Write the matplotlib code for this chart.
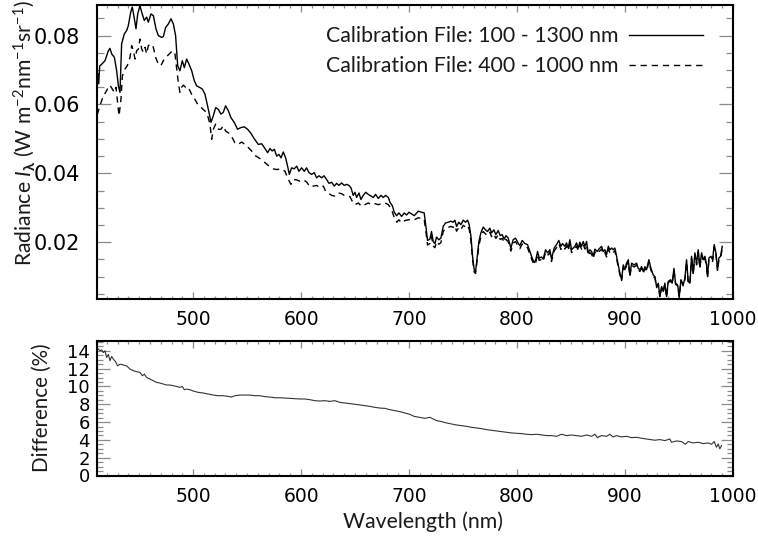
import matplotlib
matplotlib.use("Agg")
import matplotlib.pyplot as plt
from matplotlib.ticker import MultipleLocator, FixedLocator

# ---------------------------------------------------------------------------
# Radiance spectrum processed with the 100 - 1300 nm calibration file
# ---------------------------------------------------------------------------
wl_full = [
    411.0, 411.8, 412.6, 413.5, 415.3, 418.4, 421.5, 423.0, 424.6, 427.1,
    429.2, 430.8, 432.3, 433.8, 436.3, 438.5, 440.0, 442.2, 443.7, 445.6,
    447.1, 448.7, 450.8, 452.4, 454.8, 457.0, 458.5, 461.0, 463.2, 465.6,
    467.8, 470.9, 472.4, 474.6, 477.1, 479.5, 481.7, 483.8, 485.7, 487.8,
    490.0, 491.9, 494.0, 496.2, 498.7, 501.1, 503.3, 506.4, 508.5, 511.0,
    514.1, 516.6, 518.7, 520.9, 523.3, 525.8, 527.9, 530.1, 532.6, 535.0,
    538.1, 541.2, 544.3, 547.4, 550.5, 553.6, 556.7, 560.4, 563.5, 566.6,
    569.0, 571.2, 573.3, 575.2, 577.4, 579.5, 581.4, 583.5, 585.7, 587.5,
    589.1, 591.2, 593.7, 595.9, 598.0, 600.5, 603.0, 605.1, 607.3, 609.8,
    612.2, 614.4, 616.6, 619.0, 621.2, 623.7, 625.8, 628.3, 630.8, 632.9,
    635.1, 637.5, 640.0, 642.2, 644.3, 646.2, 648.3, 649.9, 651.4, 653.6,
    655.4, 657.6, 659.8, 662.2, 664.7, 666.9, 669.0, 671.5, 674.0, 676.1,
    678.3, 680.8, 682.3, 684.5, 686.3, 688.5, 690.6, 693.1, 695.6, 697.7,
    699.9, 702.4, 704.8, 708.5, 711.6, 714.0, 715.6, 717.1, 719.3, 720.8,
    722.4, 723.9, 725.5, 727.6, 729.5, 731.6, 733.8, 736.3, 738.7, 740.9,
    742.4, 744.0, 746.1, 748.0, 750.2, 752.3, 754.2, 755.7, 757.3, 758.8,
    760.3, 761.6, 762.8, 764.7, 766.5, 768.7, 770.8, 772.7, 774.8, 776.4,
    778.5, 780.4, 782.6, 784.4, 786.3, 788.1, 789.7, 791.8, 794.3, 796.4,
    798.6, 800.5, 802.6, 804.8, 807.3, 809.7, 811.9, 814.0, 815.9, 817.4,
    819.0, 820.5, 822.7, 824.2, 826.4, 828.2, 830.4, 831.9, 834.4, 836.6,
    838.7, 840.6, 842.1, 844.3, 845.8, 847.4, 848.9, 850.5, 853.6, 855.1,
    856.7, 858.2, 859.8, 861.3, 862.9, 864.4, 865.9, 867.5, 869.0, 870.6,
    872.1, 874.3, 875.8, 878.3, 879.8, 881.4, 882.9, 884.5, 886.0, 887.6,
    889.1, 890.6, 892.2, 893.7, 895.3, 896.8, 898.4, 899.9, 901.4, 903.0,
    904.5, 906.1, 908.5, 910.7, 912.2, 913.8, 915.3, 916.9, 918.4, 919.9,
    922.1, 924.0, 926.1, 927.7, 929.2, 930.8, 932.3, 933.9, 935.4, 936.9,
    938.5, 940.0, 942.2, 943.7, 945.3, 946.8, 948.7, 950.2, 951.8, 953.9,
    955.5, 957.0, 958.5, 960.1, 961.6, 963.2, 964.7, 966.3, 967.8, 969.3,
    970.9, 972.4, 974.0, 975.5, 976.4, 977.7, 979.5, 981.1, 982.6, 984.2,
    985.7, 986.9, 988.5, 990.0,
]
rad_full = [
    0.0645, 0.0690, 0.0660, 0.0712, 0.0717, 0.0727, 0.0756, 0.0763, 0.0747, 0.0737,
    0.0698, 0.0654, 0.0635, 0.0776, 0.0805, 0.0815, 0.0829, 0.0868, 0.0883, 0.0849,
    0.0820, 0.0863, 0.0887, 0.0868, 0.0844, 0.0854, 0.0839, 0.0863, 0.0858, 0.0820,
    0.0800, 0.0795, 0.0797, 0.0824, 0.0834, 0.0849, 0.0834, 0.0800, 0.0713, 0.0698,
    0.0727, 0.0707, 0.0732, 0.0717, 0.0698, 0.0669, 0.0654, 0.0649, 0.0645, 0.0630,
    0.0586, 0.0548, 0.0567, 0.0591, 0.0586, 0.0572, 0.0577, 0.0596, 0.0582, 0.0562,
    0.0548, 0.0528, 0.0533, 0.0535, 0.0528, 0.0516, 0.0500, 0.0484, 0.0486, 0.0472,
    0.0460, 0.0472, 0.0465, 0.0470, 0.0450, 0.0455, 0.0445, 0.0462, 0.0445, 0.0421,
    0.0397, 0.0416, 0.0413, 0.0421, 0.0406, 0.0416, 0.0406, 0.0416, 0.0402, 0.0397,
    0.0402, 0.0387, 0.0393, 0.0387, 0.0393, 0.0382, 0.0371, 0.0374, 0.0363, 0.0371,
    0.0365, 0.0372, 0.0365, 0.0368, 0.0365, 0.0358, 0.0336, 0.0345, 0.0330, 0.0343,
    0.0324, 0.0336, 0.0345, 0.0339, 0.0334, 0.0330, 0.0339, 0.0327, 0.0336, 0.0330,
    0.0336, 0.0330, 0.0316, 0.0306, 0.0287, 0.0277, 0.0285, 0.0275, 0.0285, 0.0279,
    0.0287, 0.0282, 0.0277, 0.0290, 0.0287, 0.0285, 0.0246, 0.0205, 0.0209, 0.0231,
    0.0202, 0.0196, 0.0215, 0.0207, 0.0212, 0.0246, 0.0256, 0.0258, 0.0261, 0.0258,
    0.0264, 0.0246, 0.0258, 0.0251, 0.0264, 0.0258, 0.0264, 0.0251, 0.0217, 0.0159,
    0.0120, 0.0115, 0.0149, 0.0202, 0.0227, 0.0244, 0.0236, 0.0231, 0.0241, 0.0227,
    0.0236, 0.0222, 0.0234, 0.0219, 0.0222, 0.0209, 0.0219, 0.0212, 0.0183, 0.0207,
    0.0212, 0.0200, 0.0190, 0.0205, 0.0196, 0.0193, 0.0173, 0.0154, 0.0141, 0.0149,
    0.0173, 0.0154, 0.0157, 0.0151, 0.0178, 0.0169, 0.0178, 0.0151, 0.0183, 0.0193,
    0.0205, 0.0188, 0.0196, 0.0188, 0.0198, 0.0183, 0.0207, 0.0178, 0.0188, 0.0198,
    0.0183, 0.0200, 0.0188, 0.0202, 0.0188, 0.0202, 0.0169, 0.0178, 0.0173, 0.0159,
    0.0180, 0.0173, 0.0180, 0.0188, 0.0173, 0.0178, 0.0164, 0.0188, 0.0178, 0.0183,
    0.0178, 0.0183, 0.0159, 0.0134, 0.0110, 0.0091, 0.0134, 0.0120, 0.0139, 0.0149,
    0.0105, 0.0139, 0.0134, 0.0139, 0.0124, 0.0120, 0.0129, 0.0115, 0.0129, 0.0120,
    0.0149, 0.0124, 0.0105, 0.0100, 0.0071, 0.0081, 0.0042, 0.0071, 0.0057, 0.0081,
    0.0042, 0.0086, 0.0091, 0.0081, 0.0124, 0.0081, 0.0076, 0.0042, 0.0091, 0.0076,
    0.0096, 0.0149, 0.0086, 0.0081, 0.0159, 0.0110, 0.0169, 0.0139, 0.0178, 0.0129,
    0.0169, 0.0149, 0.0159, 0.0134, 0.0100, 0.0154, 0.0159, 0.0149, 0.0193, 0.0169,
    0.0120, 0.0154, 0.0159, 0.0188,
]

# ---------------------------------------------------------------------------
# Same spectrum processed with the 400 - 1000 nm calibration file
# ---------------------------------------------------------------------------
wl_vnir = [
    411.2, 413.7, 416.8, 419.0, 421.5, 423.0, 425.2, 427.1, 428.6, 430.1,
    431.4, 433.2, 434.5, 436.9, 439.1, 441.6, 443.1, 444.7, 446.2, 447.7,
    449.3, 450.8, 452.4, 453.9, 455.5, 457.0, 458.5, 461.0, 463.2, 465.3,
    467.8, 470.2, 472.4, 474.6, 477.1, 479.5, 481.7, 483.2, 484.8, 486.3,
    487.8, 489.4, 490.9, 493.1, 494.9, 497.1, 499.3, 501.7, 504.2, 506.4,
    508.5, 511.0, 513.5, 515.6, 517.2, 518.7, 520.9, 523.3, 525.8, 527.9,
    530.1, 532.6, 535.6, 538.7, 541.8, 544.9, 548.0, 551.1, 554.2, 557.3,
    561.9, 566.6, 571.2, 574.3, 577.4, 581.4, 585.1, 588.2, 590.6, 592.8,
    595.9, 599.0, 602.0, 605.1, 608.2, 611.3, 614.4, 617.5, 620.6, 622.7,
    625.2, 628.3, 631.4, 634.5, 637.5, 640.0, 642.2, 645.3, 647.4, 649.9,
    653.0, 656.1, 659.2, 662.2, 665.3, 668.4, 671.5, 674.6, 677.7, 680.8,
    683.8, 686.3, 688.5, 690.6, 693.1, 696.2, 699.3, 702.4, 704.8, 708.5,
    711.6, 714.0, 715.6, 717.1, 719.3, 720.8, 722.4, 723.9, 725.5, 727.6,
    729.5, 731.6, 733.8, 736.3, 738.7, 740.9, 742.4, 744.0, 746.1, 748.0,
    750.2, 752.3, 754.2, 755.7, 757.3, 758.8, 760.3, 761.6, 762.8, 764.7,
    766.5, 768.7, 770.8, 772.7, 774.8, 776.4, 778.5, 780.4, 782.6, 784.4,
    786.3, 788.1, 789.7, 791.8, 794.3, 796.4, 798.6, 800.5, 802.6, 804.8,
    807.3, 809.7, 811.9, 814.0, 815.9, 817.4, 819.0, 820.5, 822.7, 824.2,
    826.4, 828.2, 830.4, 831.9, 834.4, 836.6, 838.7, 840.6, 842.1, 844.3,
    845.8, 847.4, 848.9, 850.5, 853.6, 855.1, 856.7, 858.2, 859.8, 861.3,
    862.9, 864.4, 865.9, 867.5, 869.0, 870.6, 872.1, 874.3, 875.8, 878.3,
    879.8, 881.4, 882.9, 884.5, 886.0, 887.6, 889.1, 890.6, 892.2, 893.7,
    895.3, 896.8, 898.4, 899.9, 901.4, 903.0, 904.5, 906.1, 908.5, 910.7,
    912.2, 913.8, 915.3, 916.9, 918.4, 919.9, 922.1, 924.0, 926.1, 927.7,
    929.2, 930.8, 932.3, 933.9, 935.4, 936.9, 938.5, 940.0, 942.2, 943.7,
    945.3, 946.8, 948.7, 950.2, 951.8, 953.9, 955.5, 957.0, 958.5, 960.1,
    961.6, 963.2, 964.7, 966.3, 967.8, 969.3, 970.9, 972.4, 974.0, 975.5,
    976.4, 977.7, 979.5, 981.1, 982.6, 984.2, 985.7, 986.9, 988.5, 990.0,
]
rad_vnir = [
    0.0570, 0.0596, 0.0625, 0.0635, 0.0650, 0.0656, 0.0645, 0.0635, 0.0650, 0.0606,
    0.0567, 0.0615, 0.0683, 0.0703, 0.0713, 0.0737, 0.0771, 0.0756, 0.0732, 0.0756,
    0.0761, 0.0790, 0.0761, 0.0752, 0.0766, 0.0747, 0.0771, 0.0776, 0.0766, 0.0737,
    0.0717, 0.0713, 0.0727, 0.0737, 0.0744, 0.0752, 0.0756, 0.0747, 0.0703, 0.0664,
    0.0635, 0.0650, 0.0656, 0.0650, 0.0652, 0.0640, 0.0625, 0.0615, 0.0601, 0.0596,
    0.0588, 0.0581, 0.0567, 0.0543, 0.0499, 0.0528, 0.0543, 0.0528, 0.0528, 0.0538,
    0.0523, 0.0518, 0.0507, 0.0489, 0.0484, 0.0491, 0.0484, 0.0475, 0.0465, 0.0452,
    0.0443, 0.0431, 0.0419, 0.0413, 0.0411, 0.0413, 0.0406, 0.0382, 0.0368, 0.0382,
    0.0381, 0.0377, 0.0381, 0.0375, 0.0361, 0.0363, 0.0365, 0.0358, 0.0363, 0.0348,
    0.0343, 0.0336, 0.0334, 0.0343, 0.0341, 0.0336, 0.0336, 0.0332, 0.0319, 0.0309,
    0.0314, 0.0304, 0.0309, 0.0314, 0.0309, 0.0312, 0.0309, 0.0312, 0.0314, 0.0309,
    0.0295, 0.0271, 0.0258, 0.0265, 0.0256, 0.0263, 0.0265, 0.0267, 0.0265, 0.0271,
    0.0269, 0.0267, 0.0230, 0.0192, 0.0196, 0.0216, 0.0189, 0.0184, 0.0202, 0.0194,
    0.0199, 0.0231, 0.0241, 0.0243, 0.0246, 0.0243, 0.0249, 0.0232, 0.0243, 0.0237,
    0.0249, 0.0244, 0.0249, 0.0237, 0.0205, 0.0150, 0.0113, 0.0109, 0.0141, 0.0191,
    0.0215, 0.0231, 0.0224, 0.0219, 0.0229, 0.0216, 0.0224, 0.0211, 0.0222, 0.0208,
    0.0211, 0.0199, 0.0208, 0.0202, 0.0174, 0.0197, 0.0202, 0.0191, 0.0181, 0.0195,
    0.0187, 0.0184, 0.0165, 0.0147, 0.0134, 0.0142, 0.0165, 0.0147, 0.0150, 0.0144,
    0.0170, 0.0161, 0.0170, 0.0144, 0.0175, 0.0184, 0.0196, 0.0179, 0.0187, 0.0180,
    0.0189, 0.0175, 0.0198, 0.0170, 0.0180, 0.0189, 0.0175, 0.0191, 0.0180, 0.0193,
    0.0180, 0.0193, 0.0161, 0.0170, 0.0165, 0.0152, 0.0172, 0.0165, 0.0172, 0.0180,
    0.0165, 0.0170, 0.0157, 0.0180, 0.0170, 0.0175, 0.0170, 0.0175, 0.0152, 0.0128,
    0.0105, 0.0087, 0.0128, 0.0115, 0.0133, 0.0142, 0.0100, 0.0133, 0.0128, 0.0133,
    0.0119, 0.0115, 0.0124, 0.0110, 0.0124, 0.0115, 0.0143, 0.0119, 0.0101, 0.0096,
    0.0068, 0.0078, 0.0040, 0.0068, 0.0055, 0.0078, 0.0040, 0.0083, 0.0087, 0.0078,
    0.0119, 0.0078, 0.0073, 0.0040, 0.0088, 0.0073, 0.0092, 0.0143, 0.0083, 0.0078,
    0.0153, 0.0106, 0.0163, 0.0134, 0.0171, 0.0124, 0.0163, 0.0143, 0.0153, 0.0129,
    0.0096, 0.0148, 0.0153, 0.0144, 0.0186, 0.0163, 0.0116, 0.0148, 0.0153, 0.0181,
]

# ---------------------------------------------------------------------------
# Relative difference between the two calibrations (%)
# ---------------------------------------------------------------------------
wl_diff = [
    411.6, 413.8, 415.3, 416.9, 418.4, 419.9, 421.5, 423.0, 424.6, 426.1,
    428.3, 430.1, 432.3, 435.4, 438.5, 441.6, 444.7, 447.7, 450.8, 453.0,
    454.8, 457.0, 460.0, 463.1, 466.2, 469.3, 472.4, 475.5, 478.5, 481.6,
    484.7, 487.8, 490.0, 491.9, 494.0, 497.1, 500.2, 504.8, 509.4, 514.1,
    518.7, 523.3, 527.9, 532.6, 535.6, 538.7, 543.4, 548.0, 552.6, 557.2,
    561.9, 566.5, 571.1, 575.7, 580.4, 585.0, 589.6, 594.3, 598.9, 603.5,
    608.2, 612.8, 617.4, 622.0, 626.7, 631.3, 635.9, 640.6, 645.2, 649.8,
    654.4, 659.1, 663.7, 668.3, 673.0, 677.6, 682.2, 686.8, 691.5, 696.1,
    700.7, 704.7, 710.0, 714.7, 719.3, 722.4, 725.5, 730.1, 734.7, 739.4,
    744.0, 748.6, 753.2, 757.9, 762.5, 767.1, 771.8, 776.4, 781.0, 785.6,
    790.3, 794.9, 799.5, 804.2, 808.8, 813.4, 818.1, 822.7, 827.3, 831.9,
    836.6, 841.2, 845.8, 850.5, 855.1, 859.7, 864.4, 869.0, 872.1, 874.5,
    878.2, 882.9, 885.9, 889.0, 892.1, 896.7, 901.4, 906.0, 910.6, 915.3,
    919.9, 924.5, 927.6, 932.2, 936.9, 941.5, 943.1, 947.7, 952.3, 956.0,
    958.5, 963.1, 967.8, 972.4, 977.0, 980.1, 982.6, 984.7, 986.3, 987.8,
    989.4,
]
diff_pct = [
    14.26, 14.00, 14.10, 13.80, 14.00, 13.25, 13.60, 12.90, 13.36, 13.07,
    12.77, 12.30, 12.50, 12.40, 12.30, 11.95, 11.76, 11.65, 11.57, 11.20,
    11.38, 11.00, 10.83, 10.64, 10.45, 10.38, 10.27, 10.16, 10.16, 10.08,
    10.00, 9.89, 10.00, 9.63, 9.70, 9.63, 9.48, 9.33, 9.26, 9.15,
    9.03, 8.96, 8.96, 8.88, 8.81, 8.96, 9.03, 9.03, 9.03, 8.96,
    8.96, 8.85, 8.81, 8.73, 8.73, 8.70, 8.66, 8.62, 8.59, 8.59,
    8.51, 8.40, 8.36, 8.40, 8.32, 8.40, 8.21, 8.14, 8.06, 8.00,
    7.92, 7.84, 7.76, 7.65, 7.57, 7.54, 7.39, 7.28, 7.17, 7.02,
    6.87, 6.64, 6.53, 6.42, 6.53, 6.35, 6.16, 6.05, 5.90, 5.79,
    5.67, 5.60, 5.52, 5.41, 5.34, 5.26, 5.15, 5.07, 5.00, 4.93,
    4.85, 4.78, 4.74, 4.70, 4.63, 4.59, 4.63, 4.55, 4.48, 4.48,
    4.40, 4.63, 4.48, 4.55, 4.48, 4.40, 4.55, 4.40, 4.63, 4.25,
    4.48, 4.40, 4.63, 4.33, 4.48, 4.33, 4.40, 4.25, 4.29, 4.18,
    4.10, 4.03, 3.96, 4.03, 3.92, 4.10, 3.73, 3.88, 3.81, 3.51,
    3.81, 3.66, 3.73, 3.58, 3.66, 3.51, 3.81, 3.17, 3.55, 2.99,
    3.36,
]

x_major = [500, 600, 700, 800, 900, 1000]
legend_labels = ["Calibration File: 100 - 1300 nm", "Calibration File: 400 - 1000 nm"]

# ---------------------------------------------------------------------------
# Figure
# ---------------------------------------------------------------------------
plt.rcParams["font.family"] = ["DejaVu Sans"]
plt.rcParams["mathtext.fontset"] = "custom"
plt.rcParams["mathtext.rm"] = "Lato"
plt.rcParams["mathtext.it"] = "Lato:italic"
plt.rcParams["mathtext.bf"] = "Lato:bold"
plt.rcParams["mathtext.fallback"] = "stixsans"

W, H = 758, 538
fig = plt.figure(figsize=(W / 100, H / 100), dpi=100)

def frac(left, top, right, bottom):
    return [left / W, 1 - bottom / H, (right - left) / W, (bottom - top) / H]

ax1 = fig.add_axes(frac(97, 5, 733, 299))
ax2 = fig.add_axes(frac(97, 341, 733, 475.5))

label_font = dict(family=["Lato", "DejaVu Sans"], color="#1a1a1a")

for ax in (ax1, ax2):
    ax.set_xlim(411, 1000)
    ax.xaxis.set_major_locator(FixedLocator(x_major))
    ax.xaxis.set_minor_locator(MultipleLocator(10))
    for s in ax.spines.values():
        s.set_linewidth(1.5)
        s.set_color("black")
    ax.tick_params(which="both", direction="in", top=True, right=True,
                   color="#8a8a8a", width=0.9)

# top panel
ax1.plot(wl_full, rad_full, color="black", lw=1.0, label=legend_labels[0])
ax1.plot(wl_vnir, rad_vnir, color="black", lw=1.0, dashes=(4.5, 3.5),
         label=legend_labels[1])
ax1.set_ylim(0.0035, 0.0889)
ax1.yaxis.set_major_locator(FixedLocator([0.02, 0.04, 0.06, 0.08]))
ax1.yaxis.set_minor_locator(MultipleLocator(0.005))
ax1.set_yticklabels(["0.02", "0.04", "0.06", "0.08"])
ax1.tick_params(axis="y", which="major", length=10, labelsize=15, pad=12)
ax1.tick_params(axis="y", which="minor", length=5)
ax1.tick_params(axis="x", which="major", length=5, labelsize=13.5, pad=8)
ax1.tick_params(axis="x", which="minor", length=2.5)

leg = ax1.legend(loc="upper right", bbox_to_anchor=(703 / W, 1 - 26 / H),
                 bbox_transform=fig.transFigure, frameon=False,
                 markerfirst=False, handlelength=3.5, handletextpad=0.47,
                 labelspacing=0.48, borderpad=0, borderaxespad=0,
                 prop=dict(family="Lato", size=15.3))
for t in leg.get_texts():
    t.set_color("#1a1a1a")

# bottom panel
ax2.plot(wl_diff, diff_pct, color="#333333", lw=0.8)
ax2.set_ylim(0, 15.1)
ax2.yaxis.set_major_locator(MultipleLocator(2))
ax2.yaxis.set_minor_locator(MultipleLocator(0.5))
ax2.tick_params(axis="y", which="major", length=9, labelsize=13, pad=5)
ax2.tick_params(axis="y", which="minor", length=4)
ax2.tick_params(axis="x", which="major", length=5, labelsize=13.5, pad=8)
ax2.tick_params(axis="x", which="minor", length=2.5)

# axis titles
fig.text(24 / W, 1 - 133.5 / H,
         r"Radiance $I_{\boldsymbol{\lambda}}$ (W m$^{-2}$nm$^{-1}$sr$^{-1}$)",
         rotation=90, ha="center", va="center", fontsize=15.2, **label_font)
fig.text(42 / W, 1 - 408 / H, "Difference (%)", rotation=90,
         ha="center", va="center", fontsize=14.8, **label_font)
fig.text(423 / W, 1 - 522 / H, "Wavelength (nm)",
         ha="center", va="center", fontsize=15.3, **label_font)

fig.savefig("out.png", dpi=100)
